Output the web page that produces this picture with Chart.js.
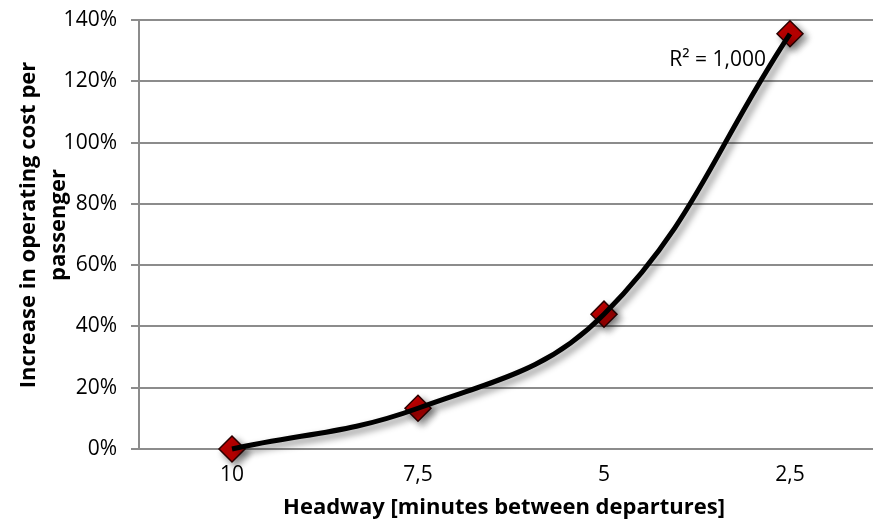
<!DOCTYPE html>
<html>
<head>
<meta charset="utf-8">
<script src="https://cdn.jsdelivr.net/npm/chart.js@4.4.1/dist/chart.umd.min.js"></script>
<style>
  html, body { margin: 0; padding: 0; background: #fff; overflow: hidden; }
  #wrap { width: 873px; height: 523px; overflow: hidden; }
</style>
</head>
<body>
<div id="wrap"><canvas id="myChart" width="883" height="523"></canvas></div>
<script>
// data
const headways = ['10', '7,5', '5', '2,5'];
const costIncrease = [0, 13.3, 44.0, 135.5];
const yTickStep = 20;
const yMax = 140;
const rSquaredLabel = 'R² = 1,000';

const xTitle = 'Headway [minutes between departures]';
const yTitle = ['Increase in operating cost per', 'passenger'];

const FONT = '"Open Sans", sans-serif';

// soft grey shadow under the marks, like the office chart
const shadowPlugin = {
  id: 'shadow',
  beforeDatasetDraw(chart) {
    const c = chart.ctx;
    c.save();
    c.shadowColor = 'rgba(0,0,0,0.45)';
    c.shadowBlur = 7;
    c.shadowOffsetX = 4;
    c.shadowOffsetY = 4;
  },
  afterDatasetDraw(chart) {
    chart.ctx.restore();
  }
};

// axis titles and the R² note
const textPlugin = {
  id: 'texts',
  afterDraw(chart) {
    const c = chart.ctx;
    const xs = chart.scales.x, ys = chart.scales.y;
    c.save();
    c.fillStyle = '#000';
    c.textAlign = 'center';
    c.textBaseline = 'middle';
    c.font = 'bold 22px ' + FONT;
    c.fillText(xTitle, 504, 508);

    c.translate(0, 225);
    c.rotate(-Math.PI / 2);
    c.fillText(yTitle[0], 0, 29);
    c.fillText(yTitle[1], 0, 59);
    c.restore();

    c.save();
    c.font = '21px ' + FONT;
    c.fillStyle = '#000';
    c.textAlign = 'right';
    c.textBaseline = 'middle';
    c.fillText(rSquaredLabel, xs.getPixelForValue(3) - 24, ys.getPixelForValue(127));
    c.restore();
  }
};

const noPad = (s) => {
  s.paddingTop = 0; s.paddingBottom = 0;
  s.paddingLeft = 0; s.paddingRight = 0;
};

const ctx = document.getElementById('myChart');

new Chart(ctx, {
  type: 'line',
  data: {
    labels: headways,
    datasets: [
      {
        label: 'trend',
        data: costIncrease,
        borderColor: '#000',
        borderWidth: 5,
        tension: 0.4,
        pointRadius: 0,
        fill: false,
        clip: false,
        order: 0
      },
      {
        label: 'cost',
        data: costIncrease,
        showLine: false,
        pointStyle: 'rectRot',
        pointRadius: 13,
        pointBackgroundColor: '#c00000',
        pointBorderColor: '#2a0000',
        pointBorderWidth: 1.5,
        clip: false,
        order: 1
      }
    ]
  },
  options: {
    responsive: false,
    animation: false,
    layout: { autoPadding: false, padding: { top: 20, right: 0, left: 0, bottom: 0 } },
    plugins: {
      legend: { display: false },
      tooltip: { enabled: false }
    },
    scales: {
      x: {
        offset: true,
        grid: { display: false, drawTicks: false },
        border: { display: false },
        ticks: { color: '#000', font: { family: FONT, size: 21 }, padding: 13 },
        afterFit: (s) => { s.height = 74; noPad(s); }
      },
      y: {
        min: 0,
        max: yMax,
        ticks: {
          stepSize: yTickStep,
          color: '#000',
          font: { family: FONT, size: 21 },
          padding: 14,
          callback: (v) => v + '%'
        },
        grid: { color: '#8c8c8c', lineWidth: 2, tickLength: 8 },
        border: { color: '#8c8c8c', width: 2 },
        afterFit: (s) => { s.width = 139; noPad(s); }
      }
    }
  },
  plugins: [shadowPlugin, textPlugin]
});
</script>
</body>
</html>
